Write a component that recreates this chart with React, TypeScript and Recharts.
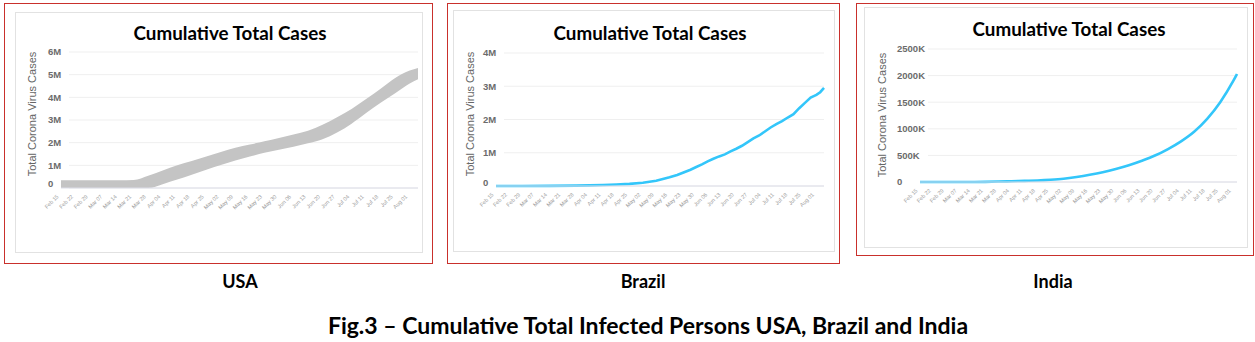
import React from 'react';
import { AreaChart, Area, LineChart, Line, XAxis, YAxis, CartesianGrid } from 'recharts';

// weekly tick positions (days since Feb 15) and their labels
const weekDays = [0, 7, 14, 21, 28, 35, 42, 49, 56, 63, 70, 77, 84, 91, 98, 105, 112, 119, 126, 133, 140, 147, 154, 161, 168];
const weekLabels = [
  'Feb 15', 'Feb 22', 'Feb 29', 'Mar 07', 'Mar 14', 'Mar 21', 'Mar 28', 'Apr 04', 'Apr 11', 'Apr 18',
  'Apr 25', 'May 02', 'May 09', 'May 16', 'May 23', 'May 30', 'Jun 06', 'Jun 13', 'Jun 20', 'Jun 27',
  'Jul 04', 'Jul 11', 'Jul 18', 'Jul 25', 'Aug 01',
];

// USA (millions) - the grey band, lower and upper edge
const usaDays = [0, 7, 14, 21, 28, 35, 42, 49, 56, 63, 70, 77, 84, 91, 98, 105, 112, 119, 126, 133, 140, 147, 154, 161, 168, 172];
const usaUpper = [0.34, 0.34, 0.34, 0.34, 0.34, 0.35, 0.54, 0.77, 1.0, 1.19, 1.39, 1.59, 1.78, 1.92, 2.06, 2.21, 2.36, 2.53, 2.79, 3.12, 3.49, 3.93, 4.38, 4.85, 5.18, 5.29];
const usaLower = [0, 0, 0, 0, 0, 0, 0, 0.17, 0.37, 0.58, 0.8, 1.01, 1.21, 1.39, 1.55, 1.69, 1.82, 1.97, 2.15, 2.45, 2.84, 3.31, 3.76, 4.18, 4.61, 4.8];
const usaTicks = [0, 1, 2, 3, 4, 5, 6];

// Brazil (millions)
const brazilDays = [0, 14, 28, 42, 49, 56, 63, 70, 77, 84, 91, 95, 98, 102, 105, 108, 111, 114, 117, 120, 123, 126, 129, 132, 135, 138, 141, 144, 147, 150, 153, 156, 159, 162, 165, 168, 170, 172];
const brazilCases = [0, 0, 0.003, 0.012, 0.02, 0.03, 0.045, 0.065, 0.1, 0.16, 0.26, 0.33, 0.4, 0.49, 0.57, 0.65, 0.74, 0.82, 0.89, 0.95, 1.04, 1.12, 1.21, 1.32, 1.43, 1.52, 1.64, 1.76, 1.86, 1.95, 2.06, 2.16, 2.34, 2.5, 2.66, 2.74, 2.82, 2.95];
const brazilTicks = [0, 1, 2, 3, 4];

// India (thousands)
const indiaDays = [0, 7, 14, 21, 28, 35, 42, 49, 56, 63, 70, 77, 84, 91, 98, 105, 112, 119, 126, 133, 140, 147, 154, 161, 168, 170];
const indiaCases = [0, 0, 0, 0, 1, 3, 8, 15, 22, 29, 42, 62, 95, 136, 185, 245, 315, 400, 497, 620, 765, 945, 1187, 1500, 1900, 2030];
const indiaTicks = [0, 500, 1000, 1500, 2000, 2500];

const usaData = usaDays.map((day, i) => ({ day, range: [usaLower[i], usaUpper[i]] }));
const brazilData = brazilDays.map((day, i) => ({ day, cases: brazilCases[i] }));
const indiaData = indiaDays.map((day, i) => ({ day, cases: indiaCases[i] }));

const BLUE = '#33c6fa';
const TITLE_FONT = 'Lato, "Open Sans", sans-serif';
const AXIS_FONT = '"Liberation Sans", Arial, sans-serif';

const YTick = ({ y, payload, textX, unit, zeroLift }: any) => (
  <text
    x={textX}
    y={payload.value === 0 ? y - zeroLift : y}
    dy="0.35em"
    textAnchor="start"
    fontFamily={AXIS_FONT}
    fontSize={9.5}
    fontWeight={700}
    fill="#6b6b6b"
  >
    {payload.value === 0 ? '0' : `${payload.value}${unit}`}
  </text>
);

const XTick = ({ x, y, payload }: any) => {
  const label = weekLabels[weekDays.indexOf(payload.value)];
  return (
    <g transform={`translate(${x - 2},${y + 9})`}>
      <text transform="rotate(-45)" textAnchor="end" fontFamily={AXIS_FONT} fontSize={5.5} fill="#9a9a9a">
        {label}
      </text>
    </g>
  );
};

const gridLine = (props: any) => (
  <line key={props.key} x1={props.x1 + 8} y1={props.y1} x2={props.x2} y2={props.y2} stroke="#efefef" strokeWidth={1} />
);

const Box = ({ l, t, w, h, color }: any) => (
  <div style={{ position: 'absolute', left: l, top: t, width: w, height: h, border: `1px solid ${color}`, boxSizing: 'border-box' }} />
);

const Title = ({ cx, cy, text, size }: any) => (
  <div
    style={{
      position: 'absolute', left: cx, top: cy, transform: 'translate(-50%, -50%)', whiteSpace: 'nowrap',
      fontFamily: TITLE_FONT, fontWeight: 700, fontSize: size, lineHeight: 1, color: '#000',
    }}
  >
    {text}
  </div>
);

const YLabel = ({ cx, cy }: any) => (
  <div
    style={{
      position: 'absolute', left: cx, top: cy, transform: 'translate(-50%, -50%) rotate(-90deg)', whiteSpace: 'nowrap',
      fontFamily: AXIS_FONT, fontSize: 11, lineHeight: 1, color: '#666',
    }}
  >
    Total Corona Virus Cases
  </div>
);

const App = () => {
  const axes = (maxDay: number, ticks: number[], yWidth: number, xHeight: number, textX: number, unit: string, zeroLift: number) => [
    <CartesianGrid key="g" vertical={false} horizontal={gridLine} />,
    <XAxis
      key="x"
      type="number"
      dataKey="day"
      domain={[0, maxDay]}
      ticks={weekDays}
      interval={0}
      height={xHeight}
      tickSize={0}
      tickMargin={0}
      tickLine={false}
      axisLine={{ stroke: '#dcdde8' }}
      tick={(p: any) => <XTick {...p} />}
    />,
    <YAxis
      key="y"
      type="number"
      domain={[0, ticks[ticks.length - 1]]}
      ticks={ticks}
      interval={0}
      width={yWidth}
      axisLine={false}
      tickLine={false}
      tick={(p: any) => <YTick {...p} textX={textX} unit={unit} zeroLift={zeroLift} />}
    />,
  ];

  return (
    <div style={{ position: 'absolute', left: 0, top: 0, width: 1255, height: 342, background: '#fff', overflow: 'hidden' }}>
      {/* USA */}
      <Box l={4} t={3} w={429} h={261} color="#c9302c" />
      <Box l={15} t={12} w={408} h={241} color="#e2e2e2" />
      <Title cx={230} cy={33} text="Cumulative Total Cases" size={18.8} />
      <YLabel cx={32} cy={114} />
      <div style={{ position: 'absolute', left: 16, top: 40 }}>
        <AreaChart width={408} height={200} data={usaData} margin={{ top: 12, right: 6, left: 0, bottom: 0 }}>
          {axes(172, usaTicks, 45, 52, 32, 'M', 4)}
          <Area type="monotone" dataKey="range" stroke="none" fill="#c4c4c4" fillOpacity={1} isAnimationActive={false} />
        </AreaChart>
      </div>
      <Title cx={240} cy={281} text="USA" size={18} />

      {/* Brazil */}
      <Box l={447} t={3} w={393} h={261} color="#c9302c" />
      <Box l={453} t={10} w={382} h={242} color="#e2e2e2" />
      <Title cx={650} cy={33} text="Cumulative Total Cases" size={18.8} />
      <YLabel cx={470} cy={114} />
      <div style={{ position: 'absolute', left: 454, top: 40 }}>
        <LineChart width={376} height={200} data={brazilData} margin={{ top: 13, right: 6, left: 0, bottom: 0 }}>
          {axes(172, brazilTicks, 42, 54, 29, 'M', 3)}
          <Line type="linear" dataKey="cases" stroke={BLUE} strokeWidth={2.6} dot={false} isAnimationActive={false} />
        </LineChart>
      </div>
      <Title cx={643} cy={281} text="Brazil" size={18} />

      {/* India */}
      <Box l={856} t={3} w={398} h={253} color="#c9302c" />
      <Box l={864} t={7} w={384} h={241} color="#e2e2e2" />
      <Title cx={1069} cy={28.5} text="Cumulative Total Cases" size={18.8} />
      <YLabel cx={882} cy={115} />
      <div style={{ position: 'absolute', left: 865, top: 36 }}>
        <LineChart width={378} height={200} data={indiaData} margin={{ top: 13, right: 6, left: 0, bottom: 0 }}>
          {axes(170, indiaTicks, 55, 54, 32, 'K', 0)}
          <Line type="monotone" dataKey="cases" stroke={BLUE} strokeWidth={2.6} dot={false} isAnimationActive={false} />
        </LineChart>
      </div>
      <Title cx={1053} cy={281} text="India" size={18} />

      <Title cx={648} cy={325} text="Fig.3 – Cumulative Total Infected Persons USA, Brazil and India" size={23} />
    </div>
  );
};

export default App;
